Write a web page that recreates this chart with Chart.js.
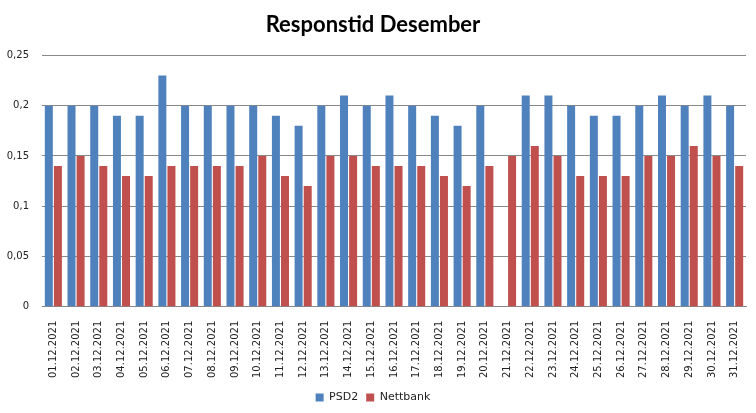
<!DOCTYPE html>
<html>
<head>
<meta charset="utf-8">
<script src="https://cdn.jsdelivr.net/npm/chart.js@4/dist/chart.umd.min.js"></script>
<style>
html,body{margin:0;padding:0;background:#fff;}
#wrap{width:756px;height:413px;}
</style>
</head>
<body>
<div id="wrap"><canvas id="c" width="756" height="413"></canvas></div>
<script>
const categories = ["01.12.2021","02.12.2021","03.12.2021","04.12.2021","05.12.2021","06.12.2021","07.12.2021","08.12.2021","09.12.2021","10.12.2021","11.12.2021","12.12.2021","13.12.2021","14.12.2021","15.12.2021","16.12.2021","17.12.2021","18.12.2021","19.12.2021","20.12.2021","21.12.2021","22.12.2021","23.12.2021","24.12.2021","25.12.2021","26.12.2021","27.12.2021","28.12.2021","29.12.2021","30.12.2021","31.12.2021"];
const psd2 = [0.20,0.20,0.20,0.19,0.19,0.23,0.20,0.20,0.20,0.20,0.19,0.18,0.20,0.21,0.20,0.21,0.20,0.19,0.18,0.20,null,0.21,0.21,0.20,0.19,0.19,0.20,0.21,0.20,0.21,0.20];
const nettbank = [0.14,0.15,0.14,0.13,0.13,0.14,0.14,0.14,0.14,0.15,0.13,0.12,0.15,0.15,0.14,0.14,0.14,0.13,0.12,0.14,0.15,0.16,0.15,0.13,0.13,0.13,0.15,0.15,0.16,0.15,0.14];
const yTicks = [0,0.05,0.1,0.15,0.2,0.25];

new Chart(document.getElementById('c'), {
  type: 'bar',
  data: {
    labels: categories,
    datasets: [
      {label:'PSD2', data: psd2, backgroundColor:'#4F81BD', categoryPercentage:0.8, barPercentage:0.88},
      {label:'Nettbank', data: nettbank, backgroundColor:'#C0504D', categoryPercentage:0.8, barPercentage:0.88}
    ]
  },
  options: {
    responsive:false,
    animation:false,
    devicePixelRatio:1,
    layout:{padding:{left:0,right:10,top:0,bottom:0}},
    plugins:{
      title:{display:true,text:'Responstid Desember',font:{family:'Lato',size:22,weight:'bold'},color:'#000',padding:{top:12,bottom:17}},
      legend:{position:'bottom',labels:{boxWidth:8,boxHeight:8,font:{family:'DejaVu Sans',size:11},color:'#222',padding:8}},
      tooltip:{enabled:false}
    },
    scales:{
      x:{
        grid:{display:false},
        border:{display:true,color:'#888',width:1},
        ticks:{maxRotation:90,minRotation:90,autoSkip:false,font:{family:'DejaVu Sans',size:10},color:'#222',padding:6}
      },
      y:{
        min:0,max:0.25,
        afterBuildTicks:(ax)=>{ax.ticks = yTicks.map(v=>({value:v}));},
        afterFit:(ax)=>{ax.width = 42;},
        grid:{color:'#888',drawTicks:false},
        border:{display:false},
        ticks:{padding:13,font:{family:'DejaVu Sans',size:10},color:'#222',callback:(v)=>String(Math.round(v*100)/100).replace('.',',')}
      }
    }
  }
});
</script>
</body>
</html>
